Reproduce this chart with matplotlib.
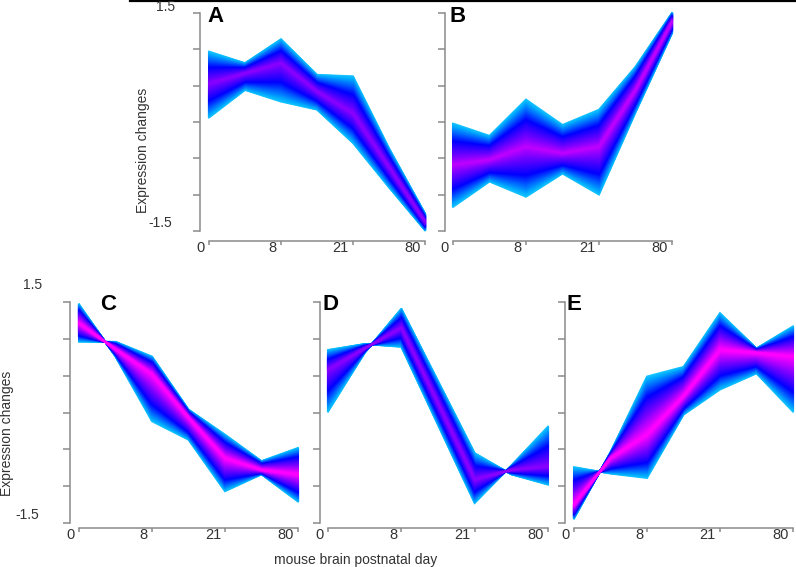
import matplotlib
matplotlib.use('Agg')
import matplotlib.pyplot as plt
import numpy as np
from matplotlib.colors import LinearSegmentedColormap
from matplotlib.lines import Line2D

plt.rcParams['font.family'] = ['Liberation Sans', 'DejaVu Sans']

W, H = 796, 567
gray = '#8a8a8a'
txt = '#333333'

days = ['0', '8', '21', '80']
tick_idx = [1, 3, 5, 7]
time_idx = [1, 2, 3, 4, 5, 6, 7]
yticks = [-1.5, -1.0, -0.5, 0.0, 0.5, 1.0, 1.5]

# cluster profiles:
# core = highest membership gene, edge_a / edge_b = the two outermost genes
core_A = [0.53, 0.67, 0.81, 0.42, 0.12, -0.62, -1.37]
edge_a_A = [0.97, 0.81, 1.14, 0.65, 0.63, -0.36, -1.26]
edge_b_A = [0.06, 0.44, 0.28, 0.17, -0.29, -0.90, -1.49]

core_B = [-0.59, -0.52, -0.34, -0.43, -0.34, 0.44, 1.38]
edge_a_B = [-0.02, -0.19, 0.31, -0.04, 0.17, 0.76, 1.50]
edge_b_B = [-1.17, -0.82, -1.03, -0.71, -1.00, 0.13, 1.22]

core_C = [1.21, 0.86, 0.52, -0.07, -0.62, -0.78, -0.84]
edge_a_C = [1.47, 0.76, -0.12, -0.37, -1.07, -0.84, -1.21]
edge_b_C = [0.96, 0.96, 0.76, 0.04, -0.30, -0.66, -0.48]

core_D = [0.58, 0.87, 1.15, 0.13, -0.91, -0.78, -0.73]
edge_a_D = [0.85, 0.93, 0.89, -0.17, -1.23, -0.72, -0.19]
edge_b_D = [0.01, 0.81, 1.41, 0.43, -0.55, -0.84, -0.98]

core_E = [-1.25, -0.62, -0.30, 0.22, 0.85, 0.81, 0.76]
edge_a_E = [-0.74, -0.83, -0.89, -0.03, 0.31, 0.53, 0.01]
edge_b_E = [-1.44, -0.54, 0.49, 0.62, 1.35, 0.87, 1.17]

# highest membership colour reached in each cluster
peak = {'A': 0.76, 'B': 0.86, 'C': 1.0, 'D': 0.76, 'E': 1.0}

cmap = LinearSegmentedColormap.from_list(
    'memb', [(0.0, '#1ac8ff'), (0.12, '#00aaff'), (0.28, '#0060ff'),
             (0.45, '#0000ff'), (0.72, '#7400ff'), (1.0, '#ff00ff')])
shade = np.linspace(1.0, 0.0, 70)

fig = plt.figure(figsize=(W / 100, H / 100), dpi=100)


def make_ax(yax, x0, x1, ytop, ybot, xax):
    # pixel geometry of one panel -> axes in data units
    pxu = (x1 - x0) / 6.0
    pyu = (ybot - ytop) / 3.0
    right = x1 + 6
    top = ytop - 10
    ax = fig.add_axes([yax / W, 1 - xax / H, (right - yax) / W, (xax - top) / H])
    ax.set_xlim(1 - (x0 - yax) / pxu, 7 + (right - x1) / pxu)
    ax.set_ylim(-1.5 - (xax - ybot) / pyu, 1.5 + (ytop - top) / pyu)
    ax.patch.set_alpha(0)
    ax.spines['top'].set_visible(False)
    ax.spines['right'].set_visible(False)
    ax.spines['left'].set_bounds(-1.5, 1.5)
    ax.spines['bottom'].set_bounds(1, 7)
    for s in ['left', 'bottom']:
        ax.spines[s].set_color(gray)
        ax.spines[s].set_linewidth(1.1)
    ax.set_yticks(yticks)
    ax.set_xticks(tick_idx)
    ax.tick_params(axis='y', length=5, width=1.1, color=gray, labelleft=False)
    ax.tick_params(axis='x', length=3, width=1.1, color=gray, labelbottom=False)
    for i, d in zip(tick_idx, days):
        ax.annotate(d, xy=(i, 0), xycoords=('data', 'axes fraction'),
                    xytext=(-4, -7), textcoords='offset pixels',
                    ha='right', va='center', fontsize=10.5, color=txt)
    return ax


def draw_cluster(ax, core, ea, eb, pk):
    core, ea, eb = np.array(core), np.array(ea), np.array(eb)
    for t in shade:
        col = cmap(pk * (1 - t) ** 0.8)
        for edge in (ea, eb):
            ax.plot(time_idx, core + t * (edge - core), color=col, lw=1.3,
                    solid_joinstyle='miter', clip_on=False)


panels = [
    ('A', (200, 209, 425, 13, 231, 241), core_A, edge_a_A, edge_b_A, (207, 17)),
    ('B', (445, 453, 672, 13, 231, 241), core_B, edge_a_B, edge_b_B, (450, 16)),
    ('C', (69.5, 79, 298, 302, 523, 528), core_C, edge_a_C, edge_b_C, (100, 305)),
    ('D', (320, 328, 548, 302, 523, 528), core_D, edge_a_D, edge_b_D, (322, 305)),
    ('E', (565, 574, 793, 302, 523, 528), core_E, edge_a_E, edge_b_E, (566, 305)),
]

for name, geo, core, ea, eb, lab in panels:
    ax = make_ax(*geo)
    draw_cluster(ax, core, ea, eb, peak[name])
    fig.text(lab[0] / W, 1 - lab[1] / H, name, fontsize=16, fontweight='bold',
             ha='left', va='center', color='black')

# y range labels and axis titles
fig.text(175 / W, 1 - 7 / H, '1.5', ha='right', va='center', fontsize=10, color=txt)
fig.text(172 / W, 1 - 223 / H, '-1.5', ha='right', va='center', fontsize=10, color=txt)
fig.text(42 / W, 1 - 285 / H, '1.5', ha='right', va='center', fontsize=10, color=txt)
fig.text(39 / W, 1 - 515 / H, '-1.5', ha='right', va='center', fontsize=10, color=txt)
fig.text(143 / W, 1 - 150 / H, 'Expression changes', rotation=90,
         ha='center', va='center', fontsize=10, color=txt)
fig.text(7 / W, 1 - 433 / H, 'Expression changes', rotation=90,
         ha='center', va='center', fontsize=10, color=txt)
fig.text(356 / W, 1 - 560 / H, 'mouse brain postnatal day',
         ha='center', va='center', fontsize=10, color=txt)

fig.add_artist(Line2D([130 / W, 1], [1 - 1 / H, 1 - 1 / H], color='black', lw=1.6))

fig.savefig('out.png', dpi=100)
